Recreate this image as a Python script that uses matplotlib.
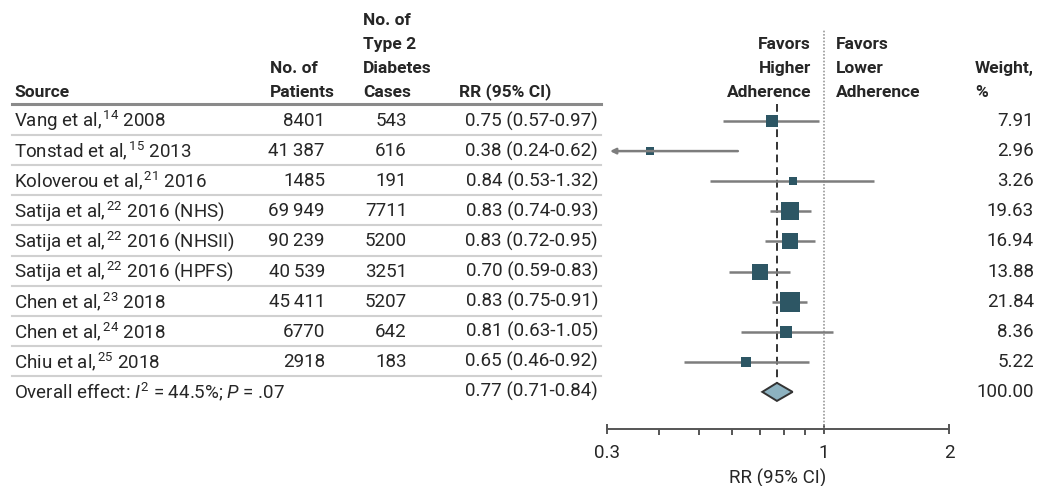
import numpy as np
import matplotlib
matplotlib.use('Agg')
import matplotlib.pyplot as plt
from matplotlib.transforms import blended_transform_factory
from matplotlib.lines import Line2D
from matplotlib.ticker import FixedLocator, NullFormatter

FONT = 'Roboto'
plt.rcParams['font.family'] = [FONT, 'DejaVu Sans']
plt.rcParams['mathtext.fontset'] = 'custom'
plt.rcParams['mathtext.rm'] = FONT
plt.rcParams['mathtext.it'] = FONT + ':italic'
plt.rcParams['mathtext.bf'] = FONT + ':bold'

# 数据
sources = ['Vang et al,$^{\\,14}$ 2008', 'Tonstad et al,$^{\\,15}$ 2013',
           'Koloverou et al,$^{\\,21}$ 2016', 'Satija et al,$^{\\,22}$ 2016 (NHS)',
           'Satija et al,$^{\\,22}$ 2016 (NHSII)', 'Satija et al,$^{\\,22}$ 2016 (HPFS)',
           'Chen et al,$^{\\,23}$ 2018', 'Chen et al,$^{\\,24}$ 2018', 'Chiu et al,$^{\\,25}$ 2018']
patients = [8401, 41387, 1485, 69949, 90239, 40539, 45411, 6770, 2918]
cases = [543, 616, 191, 7711, 5200, 3251, 5207, 642, 183]
rr = [0.75, 0.38, 0.84, 0.83, 0.83, 0.70, 0.83, 0.81, 0.65]
rr_lo = [0.57, 0.24, 0.53, 0.74, 0.72, 0.59, 0.75, 0.63, 0.46]
rr_hi = [0.97, 0.62, 1.32, 0.93, 0.95, 0.83, 0.91, 1.05, 0.92]
weights = [7.91, 2.96, 3.26, 19.63, 16.94, 13.88, 21.84, 8.36, 5.22]

overall_label = 'Overall effect: $I^2$ = 44.5%; $P$ = .07'
overall_rr, overall_lo, overall_hi, overall_w = 0.77, 0.71, 0.84, 100.00

x_ticks = [0.3, 1, 2]
x_minor = [0.4, 0.5, 0.6, 0.7, 0.8, 0.9]

TXT = '#262626'
SQ = '#2d5664'
CI = '#7d7d7d'
DIA = '#8db2c0'
FS = 13.5    # 正文字号
FH = 12.5    # 表头字号

W, H = 1040, 486
fig = plt.figure(figsize=(W / 100, H / 100), dpi=100)

# 森林图坐标轴（像素换算）
row0, step = 121, 30.1
ax_left, ax_right, ax_top, ax_bot = 607, 949, 30, 429
ax = fig.add_axes([ax_left / W, 1 - ax_bot / H, (ax_right - ax_left) / W, (ax_bot - ax_top) / H])
ax.set_xscale('log')
ax.set_xlim(0.3, 2)
ax.set_ylim((ax_bot - row0) / step, (ax_top - row0) / step)
ax.patch.set_alpha(0)
for s in ['left', 'top', 'right']:
    ax.spines[s].set_visible(False)
ax.spines['bottom'].set_color('#555555')
ax.spines['bottom'].set_linewidth(1.4)
ax.set_yticks([])
ax.xaxis.set_major_locator(FixedLocator(x_ticks))
ax.set_xticklabels([str(t) for t in x_ticks])
ax.xaxis.set_minor_locator(FixedLocator(x_minor))
ax.xaxis.set_minor_formatter(NullFormatter())
ax.tick_params(axis='x', which='major', direction='inout', length=7, width=1.4, color='#555555',
               labelsize=FS, labelcolor=TXT, pad=7)
ax.tick_params(axis='x', which='minor', direction='out', length=4, width=1.4, color='#555555')
ax.set_xlabel('RR (95% CI)', fontsize=FS, color=TXT, labelpad=5)

n = len(sources)
rows = np.arange(n)

# 参考线
ax.axvline(1, color='#9a9a9a', lw=1.2, ls=(0, (1, 1)))
ax.plot([overall_rr, overall_rr], [-0.55, n + 0.3], color='#333333', lw=1.4, ls=(0, (4, 2.5)))

# 置信区间和方块
for i in rows:
    if rr_lo[i] < 0.3:
        ax.annotate('', xy=(0.305, i), xytext=(rr_hi[i], i),
                    arrowprops=dict(arrowstyle='-|>', color=CI, lw=1.8, mutation_scale=8, shrinkA=0, shrinkB=0))
    else:
        ax.plot([rr_lo[i], rr_hi[i]], [i, i], color=CI, lw=1.8, solid_capstyle='butt')
    ax.plot(rr[i], i, marker='s', ms=2.97 * np.sqrt(weights[i]), color=SQ, mec=SQ, mew=0)

# 合并效应菱形
dh = 0.3
ax.fill([overall_lo, overall_rr, overall_hi, overall_rr], [n, n - dh, n, n + dh],
        facecolor=DIA, edgecolor='#333333', lw=1.4, zorder=3)

# 表格文字
tr = blended_transform_factory(fig.transFigure, ax.transData)
def fx(px):
    return px / W

def fmt_num(v):
    return f'{v:,}'.replace(',', '\u2009') if v >= 10000 else str(v)

def rr_text(a, b, c):
    return f'{a:.2f} ({b:.2f}-{c:.2f})'

for i in rows:
    ax.text(fx(14), i, sources[i], transform=tr, ha='left', va='center', fontsize=FS, color=TXT)
    ax.text(fx(325), i, fmt_num(patients[i]), transform=tr, ha='right', va='center', fontsize=FS, color=TXT)
    ax.text(fx(407), i, fmt_num(cases[i]), transform=tr, ha='right', va='center', fontsize=FS, color=TXT)
    ax.text(fx(598), i, rr_text(rr[i], rr_lo[i], rr_hi[i]), transform=tr, ha='right', va='center', fontsize=FS, color=TXT)
    ax.text(fx(1034), i, f'{weights[i]:.2f}', transform=tr, ha='right', va='center', fontsize=FS, color=TXT)

ax.text(fx(14), n, overall_label, transform=tr, ha='left', va='center', fontsize=FS, color=TXT)
ax.text(fx(598), n, rr_text(overall_rr, overall_lo, overall_hi), transform=tr, ha='right', va='center', fontsize=FS, color=TXT)
ax.text(fx(1034), n, f'{overall_w:.2f}', transform=tr, ha='right', va='center', fontsize=FS, color=TXT)

# 分隔线
fig.add_artist(Line2D([fx(12), fx(601)], [(104 - row0) / step] * 2, transform=tr, color='#8a8a8a', lw=2.2))
for i in rows:
    fig.add_artist(Line2D([fx(12), fx(601)], [i + 0.47] * 2, transform=tr, color='#d0d0d0', lw=1.5))

# 表头
def header(x, lines, ha='left'):
    k = len(lines)
    for j, t in enumerate(lines):
        ypx = 92 - 24 * (k - 1 - j)
        ax.text(fx(x), (ypx - row0) / step, t, transform=tr, ha=ha, va='center',
                fontsize=FH, color=TXT, fontweight='bold')

header(14, ['Source'])
header(270, ['No. of', 'Patients'])
header(363, ['No. of', 'Type 2', 'Diabetes', 'Cases'])
header(459, ['RR (95% CI)'])
header(811, ['Favors', 'Higher', 'Adherence'], ha='right')
header(836, ['Favors', 'Lower', 'Adherence'])
header(975, ['Weight,', '%'])

plt.savefig('out.png', dpi=100)
